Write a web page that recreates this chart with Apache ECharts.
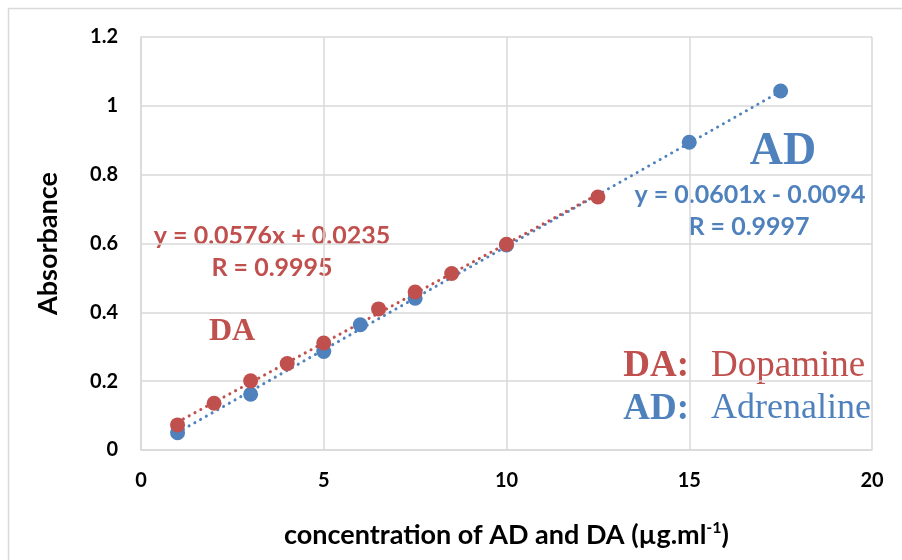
<!DOCTYPE html>
<html><head><meta charset="utf-8">
<script src="https://cdn.jsdelivr.net/npm/echarts@6/dist/echarts.min.js"></script>
<style>html,body{margin:0;padding:0;background:#fff}#c{width:902px;height:560px}</style>
</head><body><div id="c"></div>
<script>
// Data
const adConc = [1, 3, 5, 6, 7.5, 10, 15, 17.5];
const adAbs  = [0.050, 0.162, 0.286, 0.364, 0.441, 0.596, 0.894, 1.043];
const daConc = [1, 2, 3, 4, 5, 6.5, 7.5, 8.5, 10, 12.5];
const daAbs  = [0.073, 0.136, 0.201, 0.251, 0.311, 0.410, 0.459, 0.513, 0.598, 0.735];
// Trendline endpoints
const adTrendX = [1, 17.5];
const adTrendY = [0.051, 1.042];
const daTrendX = [1, 12.5];
const daTrendY = [0.081, 0.743];
const xTicks = [0, 5, 10, 15, 20];
const yTicks = [0, 0.2, 0.4, 0.6, 0.8, 1, 1.2];

const RED = '#C0504D', BLUE = '#4F81BD';
const zip = (a, b) => a.map((v, i) => [v, b[i]]);
const sans = 'Lato, "Open Sans", sans-serif';
const serif = '"Liberation Serif", "DejaVu Serif", serif';

const chart = echarts.init(document.getElementById('c'), null, {renderer: 'canvas'});
const dotted = c => ({color: c, width: 3, type: [0.1, 6.5], cap: 'round'});

chart.setOption({
  animation: false,
  backgroundColor: '#fff',
  grid: {left: 141, right: 30, top: 37, bottom: 110},
  xAxis: {
    type: 'value', min: 0, max: 20, interval: 5,
    axisLine: {show: true, lineStyle: {color: '#d9d9d9', width: 1.5}},
    axisTick: {show: false},
    splitLine: {show: true, lineStyle: {color: '#d9d9d9', width: 1.5}},
    axisLabel: {color: '#000', fontFamily: sans, fontWeight: 'bold', fontSize: 20, margin: 21,
      formatter: v => xTicks.includes(v) ? String(v) : ''},
    name: '{t|concentration of AD and DA (µg.ml}{s|-1}{t|)}',
    nameLocation: 'middle', nameGap: 70,
    nameTextStyle: {rich: {
      t: {fontFamily: sans, fontWeight: 'bold', fontSize: 27, color: '#000'},
      s: {fontFamily: sans, fontWeight: 'bold', fontSize: 16, color: '#000', verticalAlign: 'top', padding: [0,0,14,0]}
    }}
  },
  yAxis: {
    type: 'value', min: 0, max: 1.2, interval: 0.2,
    axisLine: {show: true, lineStyle: {color: '#d9d9d9', width: 1.5}},
    axisTick: {show: false},
    splitLine: {show: true, lineStyle: {color: '#d9d9d9', width: 1.5}},
    axisLabel: {color: '#000', fontFamily: sans, fontWeight: 'bold', fontSize: 20, margin: 23,
      formatter: v => { const t = yTicks.find(k => Math.abs(k - v) < 1e-9); return t === undefined ? '' : String(t); }},
    name: 'Absorbance', nameLocation: 'middle', nameGap: 79, nameRotate: 90,
    nameTextStyle: {fontFamily: sans, fontWeight: 'bold', fontSize: 27, color: '#000'}
  },
  series: [
    {type: 'line', data: zip(adTrendX, adTrendY), symbol: 'none', lineStyle: dotted(BLUE), z: 1, silent: true},
    {type: 'line', data: zip(daTrendX, daTrendY), symbol: 'none', lineStyle: dotted(RED), z: 1, silent: true},
    {type: 'scatter', data: zip(adConc, adAbs), symbolSize: 15, itemStyle: {color: BLUE, opacity: 1}, z: 2},
    {type: 'scatter', data: zip(daConc, daAbs), symbolSize: 15, itemStyle: {color: RED, opacity: 1}, z: 3}
  ],
  graphic: [
    {type: 'rect', left: 6, top: 6, shape: {width: 900, height: 560},
      style: {fill: 'none', stroke: '#d9d9d9', lineWidth: 1.5}, silent: true, z: -1},
    {type: 'text', x: 272, y: 236, style: {text: 'y = 0.0576x + 0.0235', fill: RED,
      font: 'bold 25px ' + sans, textAlign: 'center', textVerticalAlign: 'middle'}},
    {type: 'text', x: 272, y: 268, style: {text: 'R = 0.9995', fill: RED,
      font: 'bold 25px ' + sans, textAlign: 'center', textVerticalAlign: 'middle'}},
    {type: 'text', x: 232, y: 332, style: {text: 'DA', fill: RED,
      font: 'bold 32px ' + serif, textAlign: 'center', textVerticalAlign: 'middle'}},
    {type: 'text', x: 783, y: 152, style: {text: 'AD', fill: BLUE,
      font: 'bold 46px ' + serif, textAlign: 'center', textVerticalAlign: 'middle'}},
    {type: 'text', x: 750, y: 195, style: {text: 'y = 0.0601x - 0.0094', fill: BLUE,
      font: 'bold 25px ' + sans, textAlign: 'center', textVerticalAlign: 'middle'}},
    {type: 'text', x: 749, y: 227, style: {text: 'R = 0.9997', fill: BLUE,
      font: 'bold 25px ' + sans, textAlign: 'center', textVerticalAlign: 'middle'}},
    {type: 'text', x: 689, y: 366, style: {text: 'DA:', fill: RED,
      font: 'bold 37px ' + serif, textAlign: 'right', textVerticalAlign: 'middle'}},
    {type: 'text', x: 711, y: 366, style: {text: 'Dopamine', fill: RED,
      font: '37px ' + serif, textAlign: 'left', textVerticalAlign: 'middle'}},
    {type: 'text', x: 689, y: 409, style: {text: 'AD:', fill: BLUE,
      font: 'bold 37px ' + serif, textAlign: 'right', textVerticalAlign: 'middle'}},
    {type: 'text', x: 711, y: 409, style: {text: 'Adrenaline', fill: BLUE,
      font: '36px ' + serif, textAlign: 'left', textVerticalAlign: 'middle'}}
  ]
});
</script></body></html>
